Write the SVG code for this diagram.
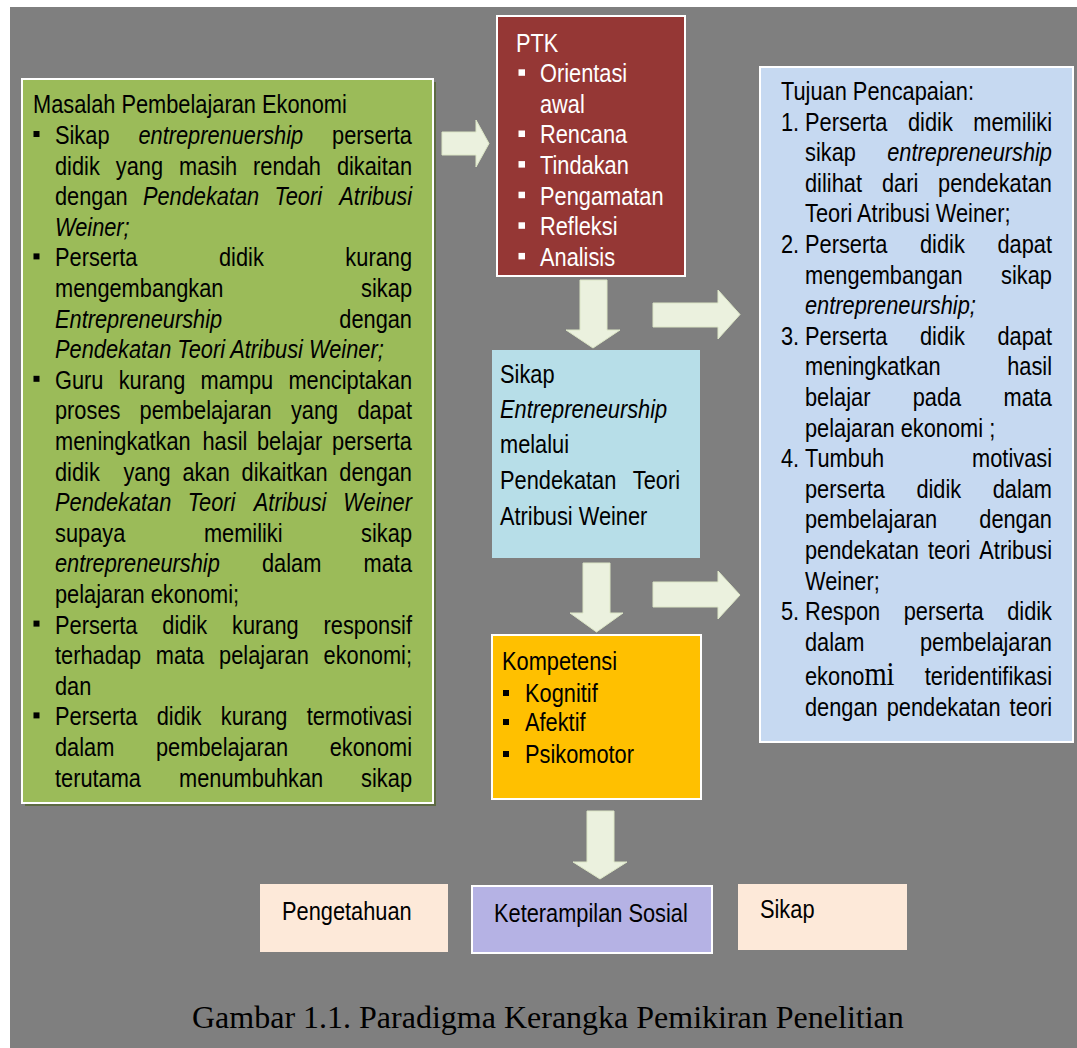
<svg xmlns="http://www.w3.org/2000/svg" width="1077" height="1048" viewBox="0 0 1077 1048">
<style>
.t{font-family:'Liberation Sans',Arial,sans-serif;font-size:26px;fill:#000}
.w{fill:#fff}
.i{font-style:italic}
.e{text-anchor:end}
.arrow{fill:#EBF1DE;stroke:#DCE6C6;stroke-width:1}
.bul{fill:#000}
.bulw{fill:#fff}
.cap{font-family:'Liberation Serif','Times New Roman',serif;font-size:32px;fill:#000}
</style>
<rect x="0" y="0" width="1077" height="1048" fill="#fff"/>
<rect x="10" y="7" width="1067" height="1041" fill="#7F7F7F"/>

<g id="connectors">
<path class="arrow" d="M442,132 H476 V120 L489,143.5 L476,167 V155 H442 Z"/>
<path class="arrow" d="M580,280 H607 V330 H620 L593,348 L566,330 H580 Z"/>
<path class="arrow" d="M653,303 H718 V290 L740,314.5 L718,339 V327 H653 Z"/>
<path class="arrow" d="M583,563 H610 V613 H623 L596.5,632 L570,613 H583 Z"/>
<path class="arrow" d="M653,582 H718 V571 L740,595 L718,619 V607 H653 Z"/>
<path class="arrow" d="M587,811 H614 V862 H627 L600,879 L573,862 H587 Z"/>
</g>

<g id="masalah">
<rect x="25" y="82" width="411" height="724" fill="#4F6228" opacity="0.7"/>
<rect x="22" y="79" width="411" height="724" fill="#9BBB59" stroke="#fff" stroke-width="2"/>
<rect class="bul" x="33.5" y="131" width="6" height="6"/>
<rect class="bul" x="33.5" y="253.4" width="6" height="6"/>
<rect class="bul" x="33.5" y="375.8" width="6" height="6"/>
<rect class="bul" x="33.5" y="620.6" width="6" height="6"/>
<rect class="bul" x="33.5" y="712.4" width="6" height="6"/>
<g class="t" transform="scale(0.8385 1)">
<text x="39.36" y="113.4">Masalah Pembelajaran Ekonomi</text>
<text y="144"><tspan x="65.59">Sikap</tspan><tspan x="165.06" class="i">entreprenuership</tspan></text><text class="e" x="491.36" y="144">perserta</text>
<text y="174.6"><tspan x="65.59">didik</tspan><tspan x="138.10">yang</tspan><tspan x="213.48">masih</tspan><tspan x="301.85">rendah</tspan></text><text class="e" x="491.36" y="174.6">dikaitan</text>
<text y="205.2"><tspan x="65.59">dengan</tspan><tspan x="170.42" class="i">Pendekatan</tspan><tspan x="327.25" class="i">Teori</tspan></text><text class="e i" x="491.36" y="205.2">Atribusi</text>
<text class="i" x="65.59" y="235.8">Weiner;</text>
<text y="266.4"><tspan x="65.59">Perserta</tspan><tspan x="261.18">didik</tspan></text><text class="e" x="491.36" y="266.4">kurang</text>
<text x="65.59" y="297">mengembangkan</text><text class="e" x="491.36" y="297">sikap</text>
<text class="i" x="65.59" y="327.6">Entrepreneurship</text><text class="e" x="491.36" y="327.6">dengan</text>
<text class="i" x="65.59" y="358.2">Pendekatan Teori Atribusi Weiner;</text>
<text y="388.8"><tspan x="65.59">Guru</tspan><tspan x="141.56">kurang</tspan><tspan x="239.12">mampu</tspan></text><text class="e" x="491.36" y="388.8">menciptakan</text>
<text y="419.4"><tspan x="65.59">proses</tspan><tspan x="166.49">pembelajaran</tspan><tspan x="346.93">yang</tspan></text><text class="e" x="491.36" y="419.4">dapat</text>
<text y="450"><tspan x="65.59">meningkatkan</tspan><tspan x="241.50">hasil</tspan><tspan x="306.38">belajar</tspan></text><text class="e" x="491.36" y="450">perserta</text>
<text y="480.6"><tspan x="65.59">didik</tspan><tspan x="147.17">yang</tspan><tspan x="217.65">akan</tspan><tspan x="288.13">dikaitkan</tspan></text><text class="e" x="491.36" y="480.6">dengan</text>
<text class="i" y="511.2"><tspan x="65.59">Pendekatan</tspan><tspan x="223.85">Teori</tspan><tspan x="302.68">Atribusi</tspan></text><text class="e i" x="491.36" y="511.2">Weiner</text>
<text y="541.8"><tspan x="65.59">supaya</tspan><tspan x="243.17">memiliki</tspan></text><text class="e" x="491.36" y="541.8">sikap</text>
<text y="572.4"><tspan x="65.59" class="i">entrepreneurship</tspan><tspan x="312.46">dalam</tspan></text><text class="e" x="491.36" y="572.4">mata</text>
<text x="65.59" y="603">pelajaran ekonomi;</text>
<text y="633.6"><tspan x="65.59">Perserta</tspan><tspan x="193.56">didik</tspan><tspan x="276.69">kurang</tspan></text><text class="e" x="491.36" y="633.6">responsif</text>
<text y="664.2"><tspan x="65.59">terhadap</tspan><tspan x="185.81">mata</tspan><tspan x="261.30">pelajaran</tspan></text><text class="e" x="491.36" y="664.2">ekonomi;</text>
<text x="65.59" y="694.8">dan</text>
<text y="725.4"><tspan x="65.59">Perserta</tspan><tspan x="186.88">didik</tspan><tspan x="263.33">kurang</tspan></text><text class="e" x="491.36" y="725.4">termotivasi</text>
<text y="756"><tspan x="65.59">dalam</tspan><tspan x="186.05">pembelajaran</tspan></text><text class="e" x="491.36" y="756">ekonomi</text>
<text y="786.6"><tspan x="65.59">terutama</tspan><tspan x="213.48">menumbuhkan</tspan></text><text class="e" x="491.36" y="786.6">sikap</text>
</g>
</g>

<g id="ptk">
<rect x="497" y="16" width="188" height="260" fill="#953735" stroke="#fff" stroke-width="2"/>
<rect class="bulw" x="518.5" y="69.3" width="6.5" height="6.5"/>
<rect class="bulw" x="518.5" y="130.5" width="6.5" height="6.5"/>
<rect class="bulw" x="518.5" y="161.1" width="6.5" height="6.5"/>
<rect class="bulw" x="518.5" y="191.7" width="6.5" height="6.5"/>
<rect class="bulw" x="518.5" y="222.3" width="6.5" height="6.5"/>
<rect class="bulw" x="518.5" y="252.9" width="6.5" height="6.5"/>
<g class="t w" transform="scale(0.8385 1)">
<text class="w" x="615.39" y="51.7">PTK</text>
<text class="w" x="644.01" y="82.3">Orientasi</text>
<text class="w" x="644.01" y="112.9">awal</text>
<text class="w" x="644.01" y="143.5">Rencana</text>
<text class="w" x="644.01" y="174.1">Tindakan</text>
<text class="w" x="644.01" y="204.7">Pengamatan</text>
<text class="w" x="644.01" y="235.3">Refleksi</text>
<text class="w" x="644.01" y="265.9">Analisis</text>
</g>
</g>

<g id="tujuan">
<rect x="760" y="67" width="313" height="675" fill="#C6D9F1" stroke="#fff" stroke-width="2"/>
<g class="t" transform="scale(0.8385 1)">
<text x="931.43" y="100">Tujuan Pencapaian:</text>
<text y="130.6"><tspan x="931.43">1.</tspan><tspan x="960.05">Perserta</tspan><tspan x="1082.89">didik</tspan></text><text class="e" x="1254.63" y="130.6">memiliki</text>
<text x="960.05" y="161.2">sikap</text><text class="e i" x="1254.63" y="161.2">entrepreneurship</text>
<text y="191.8"><tspan x="960.05">dilihat</tspan><tspan x="1051.76">dari</tspan></text><text class="e" x="1254.63" y="191.8">pendekatan</text>
<text x="960.05" y="222.4">Teori Atribusi Weiner;</text>
<text y="253"><tspan x="931.43">2.</tspan><tspan x="960.05">Perserta</tspan><tspan x="1097.20">didik</tspan></text><text class="e" x="1254.63" y="253">dapat</text>
<text x="960.05" y="283.6">mengembangan</text><text class="e" x="1254.63" y="283.6">sikap</text>
<text class="i" x="960.05" y="314.2">entrepreneurship;</text>
<text y="344.8"><tspan x="931.43">3.</tspan><tspan x="960.05">Perserta</tspan><tspan x="1097.20">didik</tspan></text><text class="e" x="1254.63" y="344.8">dapat</text>
<text x="960.05" y="375.4">meningkatkan</text><text class="e" x="1254.63" y="375.4">hasil</text>
<text y="406"><tspan x="960.05">belajar</tspan><tspan x="1088.49">pada</tspan></text><text class="e" x="1254.63" y="406">mata</text>
<text x="960.05" y="436.6">pelajaran ekonomi ;</text>
<text y="467.2"><tspan x="931.43">4.</tspan><tspan x="960.05">Tumbuh</tspan></text><text class="e" x="1254.63" y="467.2">motivasi</text>
<text y="497.8"><tspan x="960.05">perserta</tspan><tspan x="1092.91">didik</tspan></text><text class="e" x="1254.63" y="497.8">dalam</text>
<text x="960.05" y="528.4">pembelajaran</text><text class="e" x="1254.63" y="528.4">dengan</text>
<text y="559"><tspan x="960.05">pendekatan</tspan><tspan x="1106.62">teori</tspan></text><text class="e" x="1254.63" y="559">Atribusi</text>
<text x="960.05" y="589.6">Weiner;</text>
<text y="620.2"><tspan x="931.43">5.</tspan><tspan x="960.05">Respon</tspan><tspan x="1077.76">perserta</tspan></text><text class="e" x="1254.63" y="620.2">didik</text>
<text x="960.05" y="651">dalam</text><text class="e" x="1254.63" y="651">pembelajaran</text>
<text y="685"><tspan x="960.05">ekono</tspan><tspan style="font-family:'Liberation Serif','Times New Roman',serif;font-size:34px">mi</tspan></text><text class="e" x="1254.63" y="685">teridentifikasi</text>
<text y="716"><tspan x="960.05">dengan</tspan><tspan x="1057.49">pendekatan</tspan></text><text class="e" x="1254.63" y="716">teori</text>
</g>
</g>

<g id="sikap-entrepreneurship">
<rect x="492" y="350" width="208" height="208" fill="#B7DEE8"/>
<g class="t" transform="scale(0.8385 1)">
<text x="596.31" y="383">Sikap</text>
<text class="i" x="596.31" y="418">Entrepreneurship</text>
<text x="596.31" y="453">melalui</text>
<text x="596.31" y="489">Pendekatan</text><text class="e" x="810.97" y="489">Teori</text>
<text x="596.31" y="525">Atribusi Weiner</text>
</g>
</g>

<g id="kompetensi">
<rect x="492" y="635" width="209" height="164" fill="#FFC000" stroke="#fff" stroke-width="2"/>
<rect class="bul" x="503" y="690" width="6" height="6"/>
<rect class="bul" x="503" y="719" width="6" height="6"/>
<rect class="bul" x="503" y="751" width="6" height="6"/>
<g class="t" transform="scale(0.8385 1)">
<text x="598.69" y="670">Kompetensi</text>
<text x="626.12" y="702">Kognitif</text>
<text x="626.12" y="731">Afektif</text>
<text x="626.12" y="763">Psikomotor</text>
</g>
</g>

<g id="pengetahuan">
<rect x="260" y="884" width="188" height="68" fill="#FDE9D9"/>
<text class="t" transform="scale(0.8385 1)" x="336.32" y="920">Pengetahuan</text>
</g>
<g id="keterampilan-sosial">
<rect x="472" y="886" width="240" height="67" fill="#B5B2E4" stroke="#fff" stroke-width="2"/>
<text class="t" transform="scale(0.8385 1)" x="589.15" y="922">Keterampilan Sosial</text>
</g>
<g id="sikap">
<rect x="738" y="884" width="169" height="66" fill="#FDE9D9"/>
<text class="t" transform="scale(0.8385 1)" x="906.38" y="918">Sikap</text>
</g>

<text class="cap" x="192" y="1028">Gambar 1.1. Paradigma Kerangka Pemikiran Penelitian</text>
</svg>
